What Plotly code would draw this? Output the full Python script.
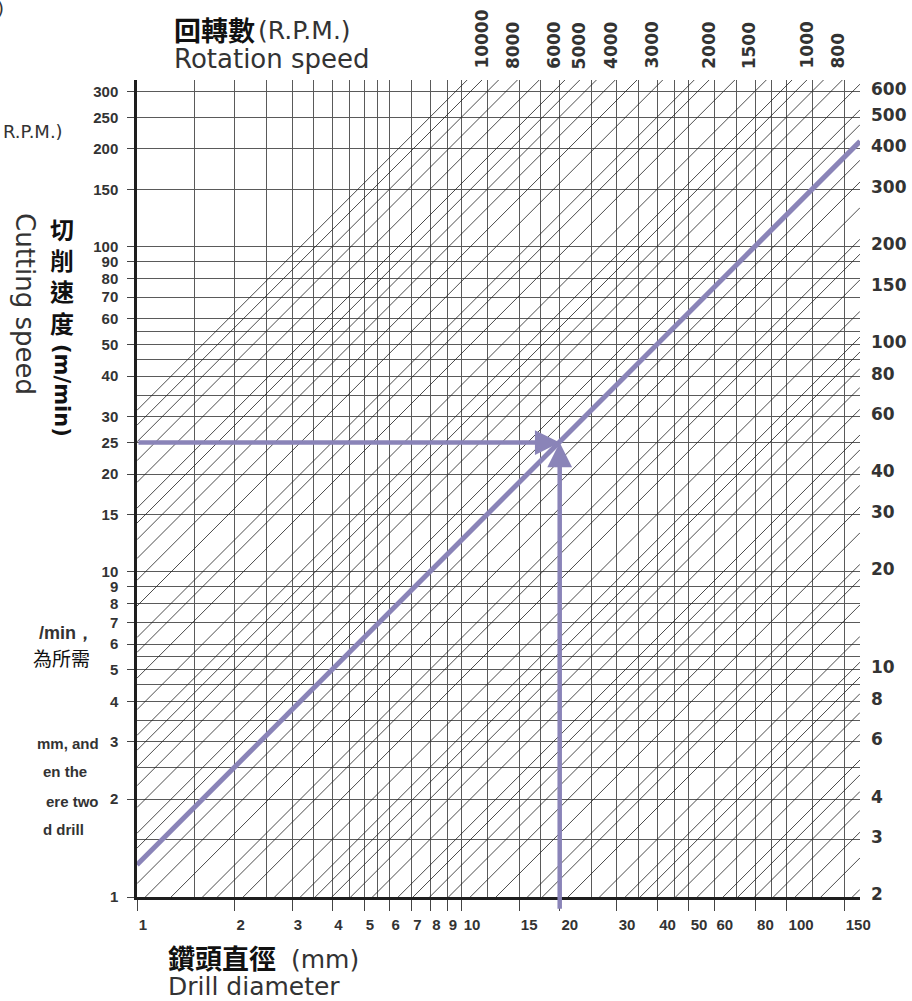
import math
import plotly.graph_objects as go

# 回轉數 (R.P.M.) lines drawn on the nomogram
RPM_LINES = [10000, 9000, 8000, 7000, 6000, 5000, 4500, 4000, 3500, 3000, 2500, 2000,
             1800, 1500, 1200, 1000, 900, 800, 700, 600, 500, 450, 400, 350, 300, 250,
             200, 180, 150, 120, 100, 90, 80, 70, 60, 50, 45, 40, 35, 30, 25, 20, 18,
             15, 12, 10, 9, 8, 7, 6, 5, 4.5, 4, 3.5, 3, 2.5, 2]
RPM_TOP_LABELS = [10000, 8000, 6000, 5000, 4000, 3000, 2000, 1500, 1000, 800]
RPM_RIGHT_LABELS = [600, 500, 400, 300, 200, 150, 100, 80, 60, 40, 30, 20, 10, 8, 6, 4, 3, 2]

# 鑽頭直徑 (mm)
DIAMETER_TICKS = [1, 2, 3, 4, 5, 6, 7, 8, 9, 10, 15, 20, 30, 40, 50, 60, 80, 100, 150]
DIAMETER_GRID = [1.5, 2.5, 3.5, 4.5, 5.5, 12, 17.5, 25, 35, 45, 70, 90, 120]

# 切削速度 (m/min)
SPEED_TICKS = [1, 2, 3, 4, 5, 6, 7, 8, 9, 10, 15, 20, 25, 30, 40, 50, 60, 70, 80, 90,
               100, 150, 200, 250, 300]
SPEED_GRID = [1.5, 2.5, 3.5, 4.5, 5.5, 35, 45, 55]

# worked example: 20 mm drill at 25 m/min -> about 400 r.p.m.
EX_DIAMETER = 20
EX_SPEED = 25
EX_RPM = 400

D_MIN, D_MAX = 1, 168
V_MIN, V_MAX = 1, 326

COR_LINHA = "#1e1e1e"
COR_GRADE = "#5a5a5a"
COR_TEXTO = "#333333"
COR_ROXO = "#8a84b8"

W, H = 912, 1001
M_L, M_R, M_T, M_B = 137, 52, 80, 104


def velocidade(d, n):
    return math.pi * d * n / 1000


def px(x, y):
    # pixel position -> paper coordinates
    return (x - M_L) / (W - M_L - M_R), (H - M_B - y) / (H - M_T - M_B)


fig = go.Figure()

xs, ys = [], []
for n in RPM_LINES:
    xs += [D_MIN, D_MAX, None]
    ys += [velocidade(D_MIN, n), velocidade(D_MAX, n), None]
fig.add_trace(go.Scatter(x=xs, y=ys, mode="lines", hoverinfo="skip",
                         line=dict(color=COR_LINHA, width=0.8)))

fig.add_trace(go.Scatter(
    x=[D_MIN, D_MAX],
    y=[velocidade(D_MIN, EX_RPM), velocidade(D_MAX, EX_RPM)],
    mode="lines", line=dict(color=COR_ROXO, width=5), hoverinfo="skip"))

ann = []

# arrows of the worked example
ann.append(dict(x=math.log10(EX_DIAMETER), y=math.log10(EX_SPEED), xref="x", yref="y",
                ax=math.log10(D_MIN), ay=math.log10(EX_SPEED), axref="x", ayref="y",
                showarrow=True, arrowhead=2, arrowsize=1.1, arrowwidth=4.5,
                arrowcolor=COR_ROXO, standoff=0, text=""))
ann.append(dict(x=math.log10(EX_DIAMETER), y=math.log10(EX_SPEED), xref="x", yref="y",
                ax=math.log10(EX_DIAMETER), ay=math.log10(0.91), axref="x", ayref="y",
                showarrow=True, arrowhead=2, arrowsize=1.1, arrowwidth=4.5,
                arrowcolor=COR_ROXO, standoff=0, text=""))

for n in RPM_TOP_LABELS:
    d = V_MAX * 1000 / (math.pi * n)
    ann.append(dict(x=math.log10(d), y=1, xref="x", yref="paper", text=str(n),
                    textangle=-90, showarrow=False, xanchor="center", yanchor="bottom",
                    xshift=14, yshift=9,
                    font=dict(family="DejaVu Sans", size=17, color=COR_TEXTO, weight="bold")))

for n in RPM_RIGHT_LABELS:
    v = velocidade(D_MAX, n)
    ann.append(dict(x=1, y=math.log10(v), xref="paper", yref="y", text=str(n),
                    showarrow=False, xanchor="left", yanchor="middle", xshift=9, yshift=-5,
                    font=dict(family="DejaVu Sans", size=17, color=COR_TEXTO, weight="bold")))


def texto(t, x, y, size, family="DejaVu Sans", bold=False, xanchor="left", angle=0,
          color=COR_TEXTO):
    xp, yp = px(x, y)
    ann.append(dict(x=xp, y=yp, xref="paper", yref="paper", text=t, showarrow=False,
                    xanchor=xanchor, yanchor="middle", textangle=angle,
                    font=dict(family=family, size=size, color=color,
                              weight="bold" if bold else "normal")))


CJK = "Noto Sans CJK TC"
texto("回轉數", 172, 29, 27, CJK, True, color="#111111")
texto("(R.P.M.)", 256, 31, 25)
texto("Rotation speed", 172, 59, 26)
texto("切<br>削<br>速<br>度", 62, 275, 24, CJK, True, "center", color="#111111")
texto("(m/min)", 62, 390, 21, bold=True, xanchor="center", angle=90, color="#111111")
texto("Cutting speed", 25, 304, 26, xanchor="center", angle=90)
texto("鑽頭直徑", 166, 957, 27, CJK, True, color="#111111")
texto("(mm)", 289, 959, 25)
texto("Drill diameter", 166, 987, 25)

# text cut off at the left edge of the page
texto(")", 6, 8, 18, xanchor="right")
texto("R.P.M.)", 65, 131, 18, xanchor="right")
texto("/min，", 96, 633, 18, "Liberation Sans", True, "right")
texto("為所需", 92, 657, 19, CJK, False, "right", color="#111111")
texto("mm, and", 101, 743, 15, "Liberation Sans", True, "right")
texto("en the", 89, 771, 15, "Liberation Sans", True, "right")
texto("ere two", 101, 801, 15, "Liberation Sans", True, "right")
texto("d drill", 86, 829, 15, "Liberation Sans", True, "right")

fig.update_layout(
    width=W, height=H,
    margin=dict(l=M_L, r=M_R, t=M_T, b=M_B, autoexpand=False),
    paper_bgcolor="white", plot_bgcolor="white",
    showlegend=False,
    annotations=ann,
)

fig.update_xaxes(
    type="log", range=[math.log10(D_MIN), math.log10(D_MAX)],
    tickvals=DIAMETER_TICKS, ticktext=[str(v) for v in DIAMETER_TICKS],
    ticks="outside", ticklen=11, tickcolor="#444", tickwidth=1, tickangle=0,
    ticklabelposition="outside right", ticklabelstandoff=12,
    tickfont=dict(family="Liberation Sans", size=15, color=COR_TEXTO, weight="bold"),
    showgrid=True, gridcolor=COR_GRADE, gridwidth=1,
    minor=dict(tickvals=DIAMETER_GRID, showgrid=True, gridcolor=COR_GRADE, gridwidth=1,
               ticks=""),
    showline=True, linecolor=COR_LINHA, linewidth=2.5, zeroline=False,
)

fig.update_yaxes(
    type="log", range=[math.log10(V_MIN), math.log10(V_MAX)],
    tickvals=SPEED_TICKS, ticktext=[str(v) for v in SPEED_TICKS],
    ticks="outside", ticklen=7, tickcolor="#444", tickwidth=1,
    ticklabelstandoff=6,
    tickfont=dict(family="Liberation Sans", size=15, color=COR_TEXTO, weight="bold"),
    showgrid=True, gridcolor=COR_GRADE, gridwidth=1,
    minor=dict(tickvals=SPEED_GRID, showgrid=True, gridcolor=COR_GRADE, gridwidth=1,
               ticks=""),
    showline=True, linecolor=COR_LINHA, linewidth=2.5, zeroline=False,
)

# drop the default page margin so the 912x1001 figure fills the window exactly
fig.write_html("out.html", config={"displayModeBar": False}, post_script=(
    "document.body.style.margin='0';"
    "document.documentElement.style.overflow='hidden';"))
